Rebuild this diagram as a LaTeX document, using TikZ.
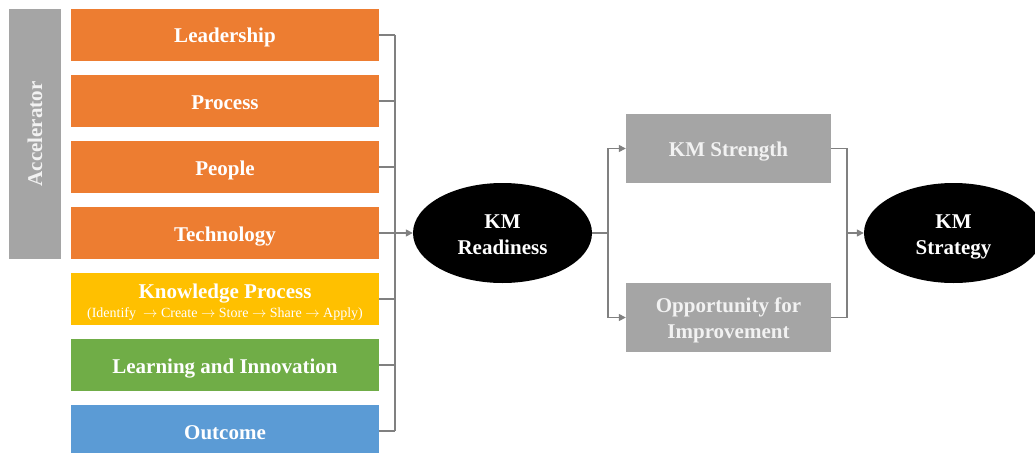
\documentclass[tikz,border=0pt]{standalone}
\usepackage{fontspec}
\setmainfont{Liberation Serif}
\usetikzlibrary{shapes.geometric,arrows.meta}

\definecolor{accOrange}{HTML}{ED7D31}
\definecolor{accYellow}{HTML}{FFC000}
\definecolor{accGreen}{HTML}{70AD47}
\definecolor{accBlue}{HTML}{5B9BD5}
\definecolor{boxGray}{HTML}{A5A5A5}
\definecolor{lineGray}{HTML}{808080}
\definecolor{paleText}{HTML}{F2F2F2}

\tikzset{
  bigfont/.style={font=\fontsize{21}{26}\selectfont\bfseries,
                  text height=18pt, text depth=2pt},
  twolines/.style={text height=44pt, text depth=2pt},
  factor/.style={rectangle, draw=none, text=white, bigfont,
                 minimum width=308pt, minimum height=52pt, inner sep=0pt, align=center},
  result/.style={rectangle, draw=none, fill=boxGray, text=paleText, bigfont,
                 minimum width=205pt, minimum height=69pt, inner sep=0pt, align=center},
  goal/.style={ellipse, fill=black, text=white, bigfont, twolines,
               minimum width=179pt, minimum height=100pt, inner sep=0pt, align=center},
  link/.style={draw=lineGray, line width=1.4pt},
  linkarrow/.style={link, -{Triangle[length=7pt,width=7pt]}},
}

\begin{document}
\begin{tikzpicture}[x=1pt,y=-1pt]
  \useasboundingbox (0,0) rectangle (1035,452);

  % side bar
  \node[rectangle, fill=boxGray, minimum width=52pt, minimum height=250pt, inner sep=0pt]
    (acc) at (35,134) {};
  \node[rotate=90, text=paleText, font=\fontsize{21}{26}\selectfont\bfseries]
    (acclabel) at (acc.center) {Accelerator};

  % readiness factors
  \node[factor, fill=accOrange] (lead) at (225,35)  {Leadership};
  \node[factor, fill=accOrange] (proc) at (225,101) {Process};
  \node[factor, fill=accOrange] (peop) at (225,167) {People};
  \node[factor, fill=accOrange] (tech) at (225,233) {Technology};
  \node[factor, fill=accYellow, text height=38pt] (know) at (225,299)
    {Knowledge Process\\[-7pt]{\fontsize{14}{16}\selectfont\mdseries
     (Identify\ \ $\rightarrow$ Create $\rightarrow$ Store $\rightarrow$ Share $\rightarrow$ Apply)}};
  \node[factor, fill=accGreen] (lear) at (225,365) {Learning and Innovation};
  \node[factor, fill=accBlue]  (outc) at (225,431) {Outcome};

  % assessment chain
  \node[goal] (ready) at (502.5,233) {KM\\Readiness};
  \node[result] (strength) at (728.5,148.5) {KM Strength};
  \node[result, twolines] (improve) at (728.5,317.5) {Opportunity for\\Improvement};
  \node[goal] (strategy) at (953.5,233) {KM\\Strategy};

  % collecting bus on the left
  \coordinate (busTop) at (395,35);
  \coordinate (busBot) at (395,431);
  \draw[link] (busTop) -- (busBot);
  \foreach \b in {lead,proc,peop,tech,know,lear,outc}
    \draw[link] (\b.east) -- (\b.east -| busTop);
  \draw[linkarrow] (tech.east -| busTop) -- (ready.west);

  % split towards the two results
  \coordinate (split) at (608,233);
  \draw[link] (ready.east) -- (split);
  \draw[linkarrow] (split) |- (strength.west);
  \draw[linkarrow] (split) |- (improve.west);

  % join towards the strategy
  \coordinate (join) at (847,233);
  \draw[link] (strength.east) -| (join);
  \draw[link] (improve.east) -| (join);
  \draw[linkarrow] (join) -- (strategy.west);
\end{tikzpicture}
\end{document}
